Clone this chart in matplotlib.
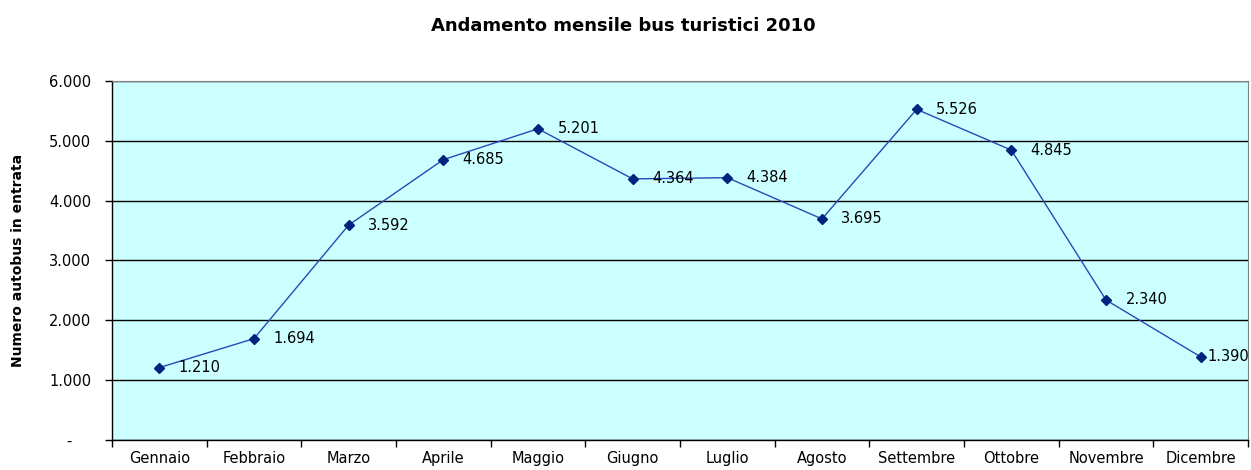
import matplotlib
matplotlib.use("Agg")
import matplotlib.pyplot as plt
from matplotlib.ticker import FuncFormatter

months = ["Gennaio", "Febbraio", "Marzo", "Aprile", "Maggio", "Giugno",
          "Luglio", "Agosto", "Settembre", "Ottobre", "Novembre", "Dicembre"]
buses = [1210, 1694, 3592, 4685, 5201, 4364, 4384, 3695, 5526, 4845, 2340, 1390]

plt.rcParams['font.family'] = ['DejaVu Sans']

fig = plt.figure(figsize=(12.51, 4.70), dpi=100)
ax = fig.add_axes([0.0895, 0.0638, 0.9081, 0.7639])
ax.set_facecolor('#CCFFFF')

x = list(range(len(months)))
ax.plot(x, buses, color='#2a48b8', lw=1.0, marker='D', ms=5,
        mfc='#00237f', mec='#00237f', zorder=3)


def fmt_it(v):
    return "{:,}".format(int(v)).replace(",", ".")


for i, v in enumerate(buses):
    off = 14 if i < len(buses) - 1 else 5
    ax.annotate(fmt_it(v), (i, v), xytext=(off, 0), textcoords='offset points',
                ha='left', va='center', fontsize=10.5, color='black',
                annotation_clip=False, zorder=4)

ax.set_xlim(-0.5, len(months) - 0.5)
ax.set_ylim(0, 6000)
ax.set_yticks(range(0, 6001, 1000))
ax.yaxis.set_major_formatter(FuncFormatter(lambda v, p: "-    " if v == 0 else fmt_it(v)))
ax.grid(axis='y', color='black', lw=1.0)
ax.set_axisbelow(True)

ax.set_xticks(x)
ax.set_xticklabels(months, fontsize=10.5)
ax.set_xticks([i - 0.5 for i in range(len(months) + 1)], minor=True)
ax.tick_params(axis='x', which='major', length=0, pad=8)
ax.tick_params(axis='x', which='minor', length=5, width=1, direction='out')
ax.tick_params(axis='y', length=5, width=1, direction='out', labelsize=10.5, pad=10)

for s in ['top', 'right']:
    ax.spines[s].set_color('#808080')
for s in ['left', 'bottom']:
    ax.spines[s].set_color('black')
    ax.spines[s].set_linewidth(1.0)

ax.set_ylabel("Numero autobus in entrata", fontsize=10, fontweight='bold',
              labelpad=17)
fig.text(0.498, 0.945, "Andamento mensile bus turistici 2010", ha='center',
         va='center', fontsize=13, fontweight='bold')

fig.savefig("out.png", dpi=100)
